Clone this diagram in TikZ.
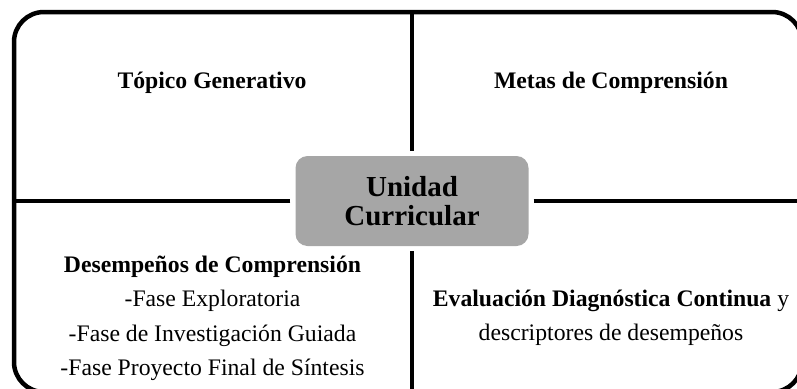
\documentclass[tikz,border=0pt]{standalone}
\usepackage{fontspec}
\setmainfont{Liberation Serif}
\usepackage{tikz}
\definecolor{cajagris}{HTML}{A6A6A6}

\begin{document}
\begin{tikzpicture}[x=1pt,y=-1pt]
\tikzstyle{every node}=[font=\fontsize{23.7}{34.3}\selectfont,inner sep=0pt,align=center]
\tikzstyle{divisor}=[line width=4pt,shorten <=5pt]
\useasboundingbox (0,0) rectangle (797,388);
\draw[line width=4.5pt,rounded corners=30pt](14,12) rectangle (802,392);
\coordinate(arriba) at (412,12);
\coordinate(abajo) at (412,392);
\coordinate(izq) at (14,201);
\coordinate(der) at (802,201);
\node[fill=cajagris,rounded corners=12pt,minimum width=233pt,minimum height=90pt,
font=\fontsize{29}{28.5}\selectfont\bfseries](unidad) at (412,201){Unidad\\Curricular};
\draw[divisor](unidad)--(arriba);
\draw[divisor](unidad)--(abajo);
\draw[divisor](unidad)--(izq);
\draw[divisor](unidad)--(der);
% los nodos de varias lineas van por la base de la ultima linea
\node[anchor=base](topico) at (212,88.3){\textbf{Tópico Generativo}};
\node[anchor=base](metas) at (611,88.3){\textbf{Metas de Comprensión}};
\node[anchor=base](desempenos) at (212.5,375.4){\textbf{Desempeños de Comprensión}\\
-Fase Exploratoria\\-Fase de Investigación Guiada\\-Fase Proyecto Final de Síntesis};
\node[anchor=base](evaluacion) at (611,340.7){\textbf{Evaluación Diagnóstica Continua} y\\
descriptores de desempeños};
\end{tikzpicture}
\end{document}
